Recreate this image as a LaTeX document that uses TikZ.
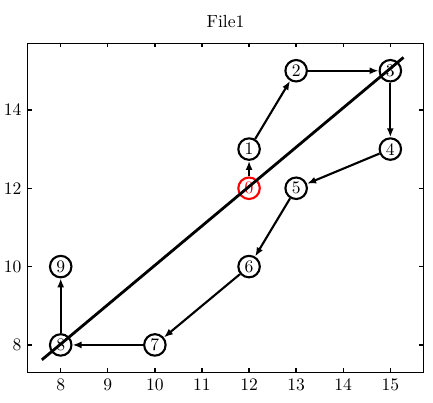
\documentclass[tikz,border=0pt]{standalone}
\usetikzlibrary{arrows.meta}
\tikzset{
  vertex/.style={circle, draw=black, very thick, fill=white, minimum size=0.43cm, inner sep=0pt},
  edge/.style={-{Latex[length=1.8mm,width=1.4mm]}, very thick},
}
\begin{document}
\begin{tikzpicture}[x=0.9418cm, y=0.7834cm]
  \useasboundingbox (6.711,6.543) rectangle (15.906,16.806);

  % Frame
  \draw[thick] (7.3,7.3) rectangle (15.7,15.7);

  % Ticks and labels
  \foreach \x in {8,...,15} {
    \draw[thick] (\x,7.3) -- (\x,7.4);
    \draw[thick] (\x,15.7) -- (\x,15.6);
    \node[below] at (\x,7.3) {\x};
  }
  \foreach \y in {8,10,12,14} {
    \draw[thick] (7.3,\y) -- (7.385,\y);
    \draw[thick] (15.7,\y) -- (15.615,\y);
    \node[left] at (7.3,\y) {\y};
  }

  % Title
  \node (title) at (11.5,16.25) {File1};

  % Vertices
  \node[vertex, draw=red, text=red] (n0) at (12,12) {0};
  \node[vertex] (n1) at (12,13) {1};
  \node[vertex] (n2) at (13,15) {2};
  \node[vertex] (n3) at (15,15) {3};
  \node[vertex] (n4) at (15,13) {4};
  \node[vertex] (n5) at (13,12) {5};
  \node[vertex] (n6) at (12,10) {6};
  \node[vertex] (n7) at (10,8) {7};
  \node[vertex] (n8) at (8,8) {8};
  \node[vertex] (n9) at (8,10) {9};

  % Path
  \draw[edge] (n0) -- (n1);
  \draw[edge] (n1) -- (n2);
  \draw[edge] (n2) -- (n3);
  \draw[edge] (n3) -- (n4);
  \draw[edge] (n4) -- (n5);
  \draw[edge] (n5) -- (n6);
  \draw[edge] (n6) -- (n7);
  \draw[edge] (n7) -- (n8);
  \draw[edge] (n8) -- (n9);

  % Diagonal
  \coordinate (d1) at (7.6,7.62);
  \coordinate (d2) at (15.28,15.34);
  \draw[line width=1.6pt] (d1) -- (d2);
\end{tikzpicture}
\end{document}
